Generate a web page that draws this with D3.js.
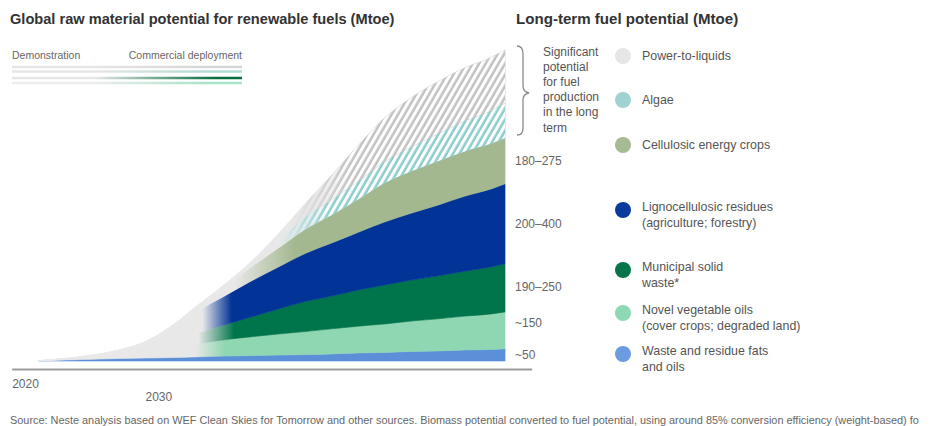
<!DOCTYPE html>
<html>
<head>
<meta charset="utf-8">
<script src="https://cdn.jsdelivr.net/npm/d3@7"></script>
<style>
  body { margin: 0; background: #fff; }
  svg { display: block; font-family: "Liberation Sans", Arial, sans-serif; }
</style>
</head>
<body>
<svg id="chart" width="929" height="426"></svg>
<script>
// ---- Data (Mtoe) ----
const years      = [2021, 2023, 2025, 2027, 2029, 2031, 2033, 2035, 2037, 2039, 2041, 2043, 2045, 2047, 2049, 2051, 2053, 2055, 2056];
const wasteFats  = [1, 4, 7, 10, 12, 14, 17, 20, 22, 24, 26, 29, 33, 35, 39, 41, 45, 47, 50];
const novelOils  = [0, 2, 6, 12, 24, 37, 53, 67, 77, 86, 94, 102, 109, 116, 124, 131, 138, 145, 150];
const municipal  = [0, 2, 4, 10, 16, 29, 45, 61, 81, 102, 122, 134, 147, 159, 167, 175, 183, 192, 196];
const ligno      = [0, 2, 4, 8, 20, 49, 90, 118, 147, 171, 196, 216, 236, 257, 273, 289, 306, 318, 326];
const cellulosic = [0, 0, 2, 4, 6, 12, 20, 37, 57, 77, 98, 114, 134, 159, 171, 179, 183, 185, 187];
const algae      = [0, 0, 0, 0, 0, 2, 4, 10, 20, 35, 50, 62, 75, 88, 100, 112, 124, 135, 143];
const powerToLiq = [0, 0, 0, 0, 0, 0, 0, 0, 4, 24, 55, 100, 145, 178, 200, 212, 216, 216, 216];

const seriesKeys  = ["waste", "novel", "msw", "ligno", "cellulosic", "algae", "ptl"];
const rangeLabels = ["~50", "~150", "190–250", "200–400", "180–275"];   // for the five lowest layers
const legendKeys  = ["ptl", "algae", "cellulosic", "ligno", "msw", "novel", "waste"];
const legendNames = [
  ["Power-to-liquids"],
  ["Algae"],
  ["Cellulosic energy crops"],
  ["Lignocellulosic residues", "(agriculture; forestry)"],
  ["Municipal solid", "waste*"],
  ["Novel vegetable oils", "(cover crops; degraded land)"],
  ["Waste and residue fats", "and oils"]
];
const tickYears = [2020, 2030];
const braceText = ["Significant", "potential", "for fuel", "production", "in the long", "term"];

// ---- Styles ----
const GREY = "#e8e8e8";
const style = {
  waste:      { color: "#5b8fd8", legend: "#6b9be0", from: null,   to: null },
  novel:      { color: "#8fd6b2", legend: "#8fd8b5", from: 2032.8, to: 2035.0 },
  msw:        { color: "#00744a", legend: "#08744a", from: 2033.0, to: 2035.7 },
  ligno:      { color: "#023497", legend: "#0a3a9e", from: 2033.3, to: 2035.5 },
  cellulosic: { color: "#a4b890", legend: "#a6ba94", from: 2035.7, to: 2040.2 },
  algae:      { color: "#8ccccc", legend: "#9fd3d3", from: 2039.1, to: 2042.9, hatch: true },
  ptl:        { color: "#c2c2c2", legend: "#e6e6e6", from: 2039.9, to: 2044.4, hatch: true }
};

const svg = d3.select("#chart");
const W = 929, H = 426;

// ---- Scales ----
const x = d3.scaleLinear().domain([2019, 2058]).range([11.7, 531.7]);
const y = d3.scaleLinear().domain([0, 1300]).range([361, 42]);

const table = years.map((yr, i) => ({
  year: yr,
  waste: wasteFats[i], novel: novelOils[i], msw: municipal[i], ligno: ligno[i],
  cellulosic: cellulosic[i], algae: algae[i], ptl: powerToLiq[i]
}));
const stacked = d3.stack().keys(seriesKeys)(table);

const defs = svg.append("defs");

function hGradient(id, from, to, c0, c1) {
  const g = defs.append("linearGradient")
    .attr("id", id).attr("gradientUnits", "userSpaceOnUse")
    .attr("x1", x(from)).attr("x2", x(to)).attr("y1", 0).attr("y2", 0);
  g.append("stop").attr("offset", 0).attr("stop-color", c0);
  g.append("stop").attr("offset", 1).attr("stop-color", c1);
}

// white diagonal stripes used for the hatched layers
const pat = defs.append("pattern")
  .attr("id", "stripes").attr("patternUnits", "userSpaceOnUse")
  .attr("width", 5.6).attr("height", 10).attr("patternTransform", "rotate(30)");
pat.append("rect").attr("x", 0).attr("y", 0).attr("width", 3.1).attr("height", 10).attr("fill", "#fff");

seriesKeys.forEach(k => {
  const s = style[k];
  if (s.from !== null) {
    hGradient("fill-" + k, s.from, s.to, GREY, s.color);
  }
  if (s.hatch) {
    hGradient("maskgrad-" + k, s.from, s.to, "#000", "#fff");
    defs.append("mask").attr("id", "mask-" + k)
      .attr("maskUnits", "userSpaceOnUse").attr("x", 0).attr("y", 0).attr("width", W).attr("height", H)
      .append("rect").attr("width", W).attr("height", H).attr("fill", "url(#maskgrad-" + k + ")");
  }
});

const area = d3.area()
  .x(d => x(d.data.year))
  .y0(d => y(d[0]))
  .y1(d => y(d[1]))
  .curve(d3.curveMonotoneX);

const layers = svg.append("g").attr("class", "layers");
stacked.forEach(layer => {
  const k = layer.key, s = style[k];
  const paint = s.from === null ? s.color : "url(#fill-" + k + ")";
  layers.append("path")
    .attr("d", area(layer))
    .attr("fill", paint)
    .attr("stroke", paint)
    .attr("stroke-width", 0.6);
  if (s.hatch) {
    layers.append("path")
      .attr("d", area(layer))
      .attr("fill", "url(#stripes)")
      .attr("mask", "url(#mask-" + k + ")");
  }
});

// ---- Axis ----
const axis = svg.append("g")
  .attr("transform", "translate(0,369)")
  .call(d3.axisBottom(x).tickValues(tickYears).tickSize(0).tickFormat(d3.format("d")));
axis.select(".domain").attr("stroke", "#9a9a9a").attr("stroke-width", 2);
axis.selectAll(".tick text")
  .attr("font-family", "Liberation Sans, Arial, sans-serif")
  .attr("font-size", 12).attr("fill", "#666")
  .attr("y", (d, i) => i === 0 ? 10 : 23)
  .attr("dy", "0.71em");

// ---- Titles ----
svg.append("text").attr("x", 10).attr("y", 24)
  .attr("font-size", 14.6).attr("font-weight", "bold").attr("fill", "#333")
  .text("Global raw material potential for renewable fuels (Mtoe)");
svg.append("text").attr("x", 516).attr("y", 24)
  .attr("font-size", 15.1).attr("font-weight", "bold").attr("fill", "#333")
  .text("Long-term fuel potential (Mtoe)");

// ---- Demonstration / commercial key ----
svg.append("text").attr("x", 12).attr("y", 59).attr("font-size", 10.5).attr("fill", "#666").text("Demonstration");
svg.append("text").attr("x", 242).attr("y", 59).attr("text-anchor", "end").attr("font-size", 10.5).attr("fill", "#666").text("Commercial deployment");
const keyLines = [
  { c0: "#e6e6e6", c1: "#d6d6d6", y: 67 },
  { c0: "#e6e6e6", c1: "#b3dad3", y: 71.5 },
  { c0: "#e6e6e6", c1: "#0b6e40", y: 78 },
  { c0: "#ededed", c1: "#a7e3c7", y: 83 }
];
keyLines.forEach((kl, i) => {
  const g = defs.append("linearGradient").attr("id", "key" + i)
    .attr("gradientUnits", "userSpaceOnUse").attr("x1", 95).attr("x2", 215).attr("y1", 0).attr("y2", 0);
  g.append("stop").attr("offset", 0).attr("stop-color", kl.c0);
  g.append("stop").attr("offset", 1).attr("stop-color", kl.c1);
  svg.append("line").attr("x1", 12).attr("x2", 242).attr("y1", kl.y).attr("y2", kl.y)
    .attr("stroke", "url(#key" + i + ")").attr("stroke-width", 2.5);
});

// ---- Range labels at the right end of each layer ----
const labelNudge = { novel: -8, msw: -1.5 };
rangeLabels.forEach((lab, i) => {
  const layer = stacked[i];
  const last = layer[layer.length - 1];
  const cy = (y(last[0]) + y(last[1])) / 2 + (labelNudge[layer.key] || 0);
  svg.append("text").attr("x", 515).attr("y", cy + 4.2)
    .attr("font-size", 12).attr("fill", "#666").text(lab);
});

// ---- Brace over the long-term potential ----
svg.append("path")
  .attr("d", "M517,46 Q523,46 523,54 L523,86 Q523,92 529,93 Q523,94 523,100 L523,128 Q523,135 517,135")
  .attr("fill", "none").attr("stroke", "#8a8a8a").attr("stroke-width", 1.3);
svg.append("g").selectAll("text").data(braceText).join("text")
  .attr("x", 543).attr("y", (d, i) => 56 + i * 15.1)
  .attr("font-size", 12).attr("fill", "#555").text(d => d);

// ---- Legend ----
const legendY = [56, 100, 145, 210, 270, 313, 354];
const legend = svg.append("g");
legendKeys.forEach((k, i) => {
  const cy = legendY[i];
  legend.append("circle").attr("cx", 623).attr("cy", cy).attr("r", 8).attr("fill", style[k].legend);
  const lines = legendNames[i];
  lines.forEach((ln, j) => {
    const ty = lines.length === 1 ? cy + 4 : cy + 1 + j * 15.5;
    legend.append("text").attr("x", 642).attr("y", ty)
      .attr("font-size", 12.4).attr("fill", "#555").text(ln);
  });
});

// ---- Source note ----
svg.append("text").attr("x", 10).attr("y", 424)
  .attr("font-size", 10.9).attr("fill", "#666")
  .text("Source: Neste analysis based on WEF Clean Skies for Tomorrow and other sources. Biomass potential converted to fuel potential, using around 85% conversion efficiency (weight-based) fo");
</script>
</body>
</html>
